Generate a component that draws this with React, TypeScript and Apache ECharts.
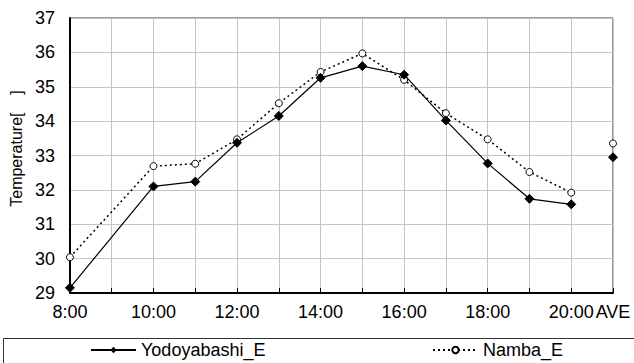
import React, { useEffect, useRef } from "react";
import * as echarts from "echarts";

// Hourly observation slots plus the daily average column
const hours = ["8:00", "9:00", "10:00", "11:00", "12:00", "13:00", "14:00", "15:00", "16:00", "17:00", "18:00", "19:00", "20:00"];
const aveLabel = "AVE";

// Temperatures (°C); 9:00 was not recorded
const yodoyabashi = [29.15, null, 32.1, 32.24, 33.37, 34.15, 35.26, 35.6, 35.35, 34.02, 32.77, 31.74, 31.58];
const yodoyabashiAve = 32.95;
const namba = [30.04, null, 32.69, 32.76, 33.47, 34.52, 35.43, 35.97, 35.2, 34.23, 33.47, 32.52, 31.92];
const nambaAve = 33.35;

const yMin = 29;
const yMax = 37;
const yStep = 1;

const FONT = "'Liberation Sans', Arial, sans-serif";

export default function App() {
  const ref = useRef<HTMLDivElement>(null);

  useEffect(() => {
    if (!ref.current) return;
    const chart = echarts.init(ref.current, null, { renderer: "svg" });
    const categories = [...hours, aveLabel];
    const lastIdx = categories.length - 1;
    const aveOnly = (v: number) => [...hours.map(() => null), v];

    chart.setOption({
      animation: false,
      backgroundColor: "#fff",
      textStyle: { fontFamily: FONT },
      grid: {
        left: 69,
        right: 21,
        top: 18,
        bottom: 70,
        show: true,
        borderColor: "#333",
        borderWidth: 1,
      },
      legend: [
        {
          data: ["Yodoyabashi_E"],
          left: 85,
          top: 339,
          padding: [2, 5, 2, 5],
          itemWidth: 45,
          itemHeight: 8,
          textStyle: { fontSize: 18, fontFamily: FONT, color: "#000" },
        },
        {
          data: ["Namba_E"],
          left: 427,
          top: 339,
          padding: [2, 5, 2, 5],
          itemWidth: 45,
          itemHeight: 8,
          textStyle: { fontSize: 18, fontFamily: FONT, color: "#000" },
        },
      ],
      graphic: [
        {
          type: "rect",
          shape: { x: 3.5, y: 338.5, width: 660, height: 60 },
          style: { fill: "none", stroke: "#333", lineWidth: 1 },
          silent: true,
        },
      ],
      xAxis: {
        type: "category",
        data: categories,
        boundaryGap: false,
        axisLine: { show: true, lineStyle: { color: "#000", width: 2 } },
        axisTick: { show: true, inside: true, length: 5, interval: 0, lineStyle: { color: "#000", width: 1 } },
        axisLabel: {
          interval: (i: number) => i % 2 === 0 || i === lastIdx,
          fontSize: 18,
          color: "#000",
          margin: 10,
          fontFamily: FONT,
        },
        splitLine: { show: true, interval: 0, lineStyle: { color: "#c4c4c4", width: 1 } },
      },
      yAxis: {
        type: "value",
        min: yMin,
        max: yMax,
        interval: yStep,
        name: "Temperature[    ]",
        nameLocation: "middle",
        nameGap: 44,
        nameTextStyle: { fontSize: 16, color: "#000", fontFamily: FONT, padding: [0, 0, 0, 14] },
        axisLine: { show: true, lineStyle: { color: "#000", width: 2 } },
        axisTick: { show: false },
        axisLabel: { fontSize: 18, color: "#000", margin: 15, fontFamily: FONT },
        splitLine: { show: true, lineStyle: { color: "#c4c4c4", width: 1 } },
      },
      series: [
        {
          name: "Yodoyabashi_E",
          type: "line",
          data: [...yodoyabashi, null],
          connectNulls: true,
          symbol: "diamond",
          symbolSize: 9,
          z: 4,
          lineStyle: { color: "#000", width: 1.2 },
          itemStyle: { color: "#000", borderColor: "#000" },
        },
        {
          name: "Namba_E",
          type: "line",
          data: [...namba, null],
          connectNulls: true,
          symbol: "circle",
          symbolSize: 7,
          z: 3,
          lineStyle: { color: "#000", width: 1.5, type: [2, 3] },
          itemStyle: { color: "#fff", borderColor: "#000", borderWidth: 1 },
        },
        {
          name: "Yodoyabashi_E AVE",
          type: "line",
          data: aveOnly(yodoyabashiAve),
          symbol: "diamond",
          symbolSize: 9,
          showAllSymbol: true,
          z: 4,
          lineStyle: { width: 0 },
          itemStyle: { color: "#000", borderColor: "#000" },
        },
        {
          name: "Namba_E AVE",
          type: "line",
          data: aveOnly(nambaAve),
          symbol: "circle",
          symbolSize: 7,
          showAllSymbol: true,
          z: 3,
          lineStyle: { width: 0 },
          itemStyle: { color: "#fff", borderColor: "#000", borderWidth: 1 },
        },
      ],
    });

    return () => chart.dispose();
  }, []);

  return (
    <div
      ref={ref}
      style={{ position: "fixed", left: 0, top: 0, width: 634, height: 363, background: "#fff" }}
    />
  );
}
